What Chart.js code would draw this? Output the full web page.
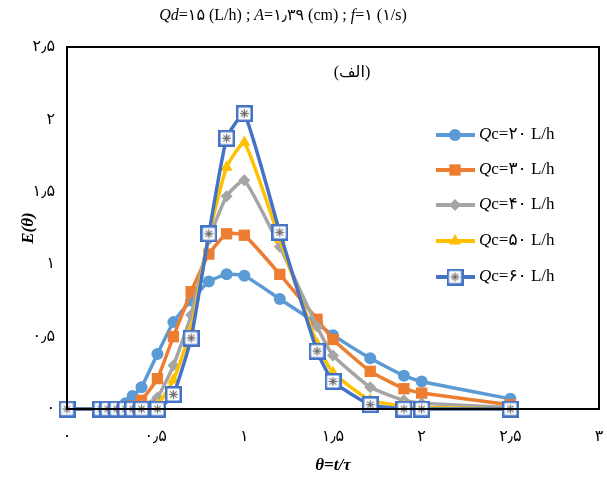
<!DOCTYPE html>
<html>
<head>
<meta charset="utf-8">
<script src="https://cdn.jsdelivr.net/npm/chart.js@4.4.0/dist/chart.umd.min.js"></script>
<style>
  html, body { margin: 0; padding: 0; background: #fff; }
</style>
</head>
<body>
<canvas id="chart" width="607" height="486"></canvas>
<script>
// theta = t/tau
const theta = [0, 0.19, 0.23, 0.28, 0.33, 0.37, 0.42, 0.51, 0.6, 0.7, 0.8, 0.9, 1.0, 1.2, 1.41, 1.5, 1.71, 1.9, 2.0, 2.5];

// E(theta) per Qc
const qc20 = [0, 0, 0, 0.01, 0.04, 0.09, 0.15, 0.38, 0.6, 0.75, 0.88, 0.93, 0.92, 0.76, 0.59, 0.51, 0.35, 0.23, 0.19, 0.07];
const qc30 = [0, 0, 0, 0, 0, 0.02, 0.06, 0.21, 0.5, 0.81, 1.07, 1.21, 1.2, 0.93, 0.62, 0.48, 0.26, 0.14, 0.11, 0.03];
const qc40 = [0, 0, 0, 0, 0, 0, 0.02, 0.08, 0.3, 0.65, 1.17, 1.47, 1.58, 1.12, 0.57, 0.37, 0.15, 0.06, 0.04, 0.01];
const qc50 = [0, 0, 0, 0, 0, 0, 0, 0.03, 0.2, 0.55, 1.2, 1.67, 1.84, 1.17, 0.45, 0.25, 0.06, 0.02, 0.01, 0];
const qc60 = [0, 0, 0, 0, 0, 0, 0, 0, 0.1, 0.49, 1.21, 1.87, 2.04, 1.22, 0.4, 0.19, 0.03, 0, 0, 0];

const seriesLabels = ["۲۰", "۳۰", "۴۰", "۵۰", "۶۰"];
const xTicks = [0, 0.5, 1, 1.5, 2, 2.5, 3];
const yTicks = [0, 0.5, 1, 1.5, 2, 2.5];

const serif = "'Liberation Serif', 'DejaVu Sans', serif";
const faDigits = "۰۱۲۳۴۵۶۷۸۹";
function toFa(v) {
  return String(v).replace(/\d/g, d => faDigits[d]).replace(".", "٫");
}

// square marker with asterisk (Qc=60)
function makeStarBox() {
  const c = document.createElement("canvas");
  c.width = 17; c.height = 17;
  const g = c.getContext("2d");
  g.fillStyle = "#fff";
  g.fillRect(0, 0, 17, 17);
  g.strokeStyle = "#4472C4";
  g.lineWidth = 2.5;
  g.strokeRect(1.25, 1.25, 14.5, 14.5);
  g.strokeStyle = "#707070";
  g.lineWidth = 1.2;
  for (let i = 0; i < 4; i++) {
    const a = i * Math.PI / 4;
    g.beginPath();
    g.moveTo(8.5 - 4.5 * Math.cos(a), 8.5 - 4.5 * Math.sin(a));
    g.lineTo(8.5 + 4.5 * Math.cos(a), 8.5 + 4.5 * Math.sin(a));
    g.stroke();
  }
  return c;
}
const starBox = makeStarBox();

const colors = ["#5B9BD5", "#ED7D31", "#A5A5A5", "#FFC000", "#4472C4"];
const styles = ["circle", "rect", "rectRot", "triangle", starBox];
const radii = [6, 8, 6, 7, 8];
const values = [qc20, qc30, qc40, qc50, qc60];

const datasets = values.map((vals, i) => ({
  label: "Qc=" + seriesLabels[i] + " L/h",
  data: theta.map((t, k) => ({ x: t, y: vals[k] })),
  borderColor: colors[i],
  backgroundColor: colors[i],
  borderWidth: 3.5,
  pointStyle: styles[i],
  pointRadius: radii[i],
  pointBorderWidth: 0,
  tension: 0.15,
  clip: false,
  order: 4 - i
}));

function drawRich(ctx, parts, x, y, size, align) {
  let total = 0;
  parts.forEach(p => {
    ctx.font = (p[1] ? "italic " : "") + size + "px " + serif;
    total += ctx.measureText(p[0]).width;
  });
  let cx = align === "center" ? x - total / 2 : x;
  ctx.textAlign = "left";
  ctx.textBaseline = "middle";
  parts.forEach(p => {
    ctx.font = (p[1] ? "italic " : "") + size + "px " + serif;
    ctx.fillText(p[0], cx, y);
    cx += ctx.measureText(p[0]).width;
  });
}

const decorPlugin = {
  id: "decor",
  afterDraw(chart) {
    const ctx = chart.ctx;
    const a = chart.chartArea;
    ctx.save();
    // frame
    ctx.strokeStyle = "#000";
    ctx.lineWidth = 2;
    ctx.strokeRect(a.left, a.top, a.right - a.left, a.bottom - a.top);

    ctx.fillStyle = "#000";
    // title
    drawRich(ctx, [["Q", true], ["d", true], ["=۱۵ (L/h) ; ", false], ["A", true],
      ["=۱٫۳۹ (cm) ; ", false], ["f", true], ["=۱ (۱/s)", false]], 283, 16, 16, "center");

    // panel label
    ctx.font = "16px " + serif;
    ctx.textAlign = "center";
    ctx.textBaseline = "middle";
    ctx.fillText("(الف)", 352, 73);

    // legend
    const rows = [135, 170, 205, 241, 277];
    datasets.forEach((ds, i) => {
      const y = rows[i];
      ctx.strokeStyle = ds.borderColor;
      ctx.lineWidth = 4;
      ctx.beginPath();
      ctx.moveTo(436, y);
      ctx.lineTo(475, y);
      ctx.stroke();
      ctx.fillStyle = ds.backgroundColor;
      Chart.helpers.drawPoint(ctx, { pointStyle: ds.pointStyle, radius: ds.pointRadius, rotation: 0, borderWidth: 0 }, 455, y);
      ctx.fillStyle = "#000";
      drawRich(ctx, [["Q", true], ["c=" + seriesLabels[i] + " L/h", false]], 479, y, 17, "left");
    });
    ctx.restore();
  }
};

new Chart(document.getElementById("chart"), {
  type: "line",
  data: { datasets: datasets },
  options: {
    responsive: false,
    animation: false,
    layout: { padding: { top: 47, right: 7, left: 0, bottom: 0 } },
    plugins: { legend: { display: false }, tooltip: { enabled: false } },
    scales: {
      x: {
        type: "linear",
        min: 0,
        max: 3,
        afterBuildTicks: s => { s.ticks = xTicks.map(v => ({ value: v })); },
        afterFit: s => { s.height = 77; s.paddingLeft = 0; s.paddingRight = 0; },
        grid: { display: false, drawTicks: false },
        border: { display: false },
        ticks: {
          padding: 18,
          maxRotation: 0,
          color: "#000",
          font: { size: 16, family: serif },
          callback: v => toFa(v)
        },
        title: {
          display: true,
          text: "θ=t/τ",
          color: "#000",
          padding: { top: 0, bottom: 10 },
          font: { size: 17, weight: "bold", style: "italic", family: serif }
        }
      },
      y: {
        min: 0,
        max: 2.5,
        afterBuildTicks: s => { s.ticks = yTicks.map(v => ({ value: v })); },
        afterFit: s => { s.width = 67; s.paddingTop = 0; s.paddingBottom = 0; },
        grid: { display: false, drawTicks: false },
        border: { display: false },
        ticks: {
          padding: 12,
          color: "#000",
          font: { size: 16, family: serif },
          callback: v => toFa(v)
        },
        title: {
          display: true,
          text: "E(θ)",
          color: "#000",
          padding: { top: 18, bottom: 0 },
          font: { size: 17, weight: "bold", style: "italic", family: serif }
        }
      }
    }
  },
  plugins: [decorPlugin]
});
</script>
</body>
</html>
